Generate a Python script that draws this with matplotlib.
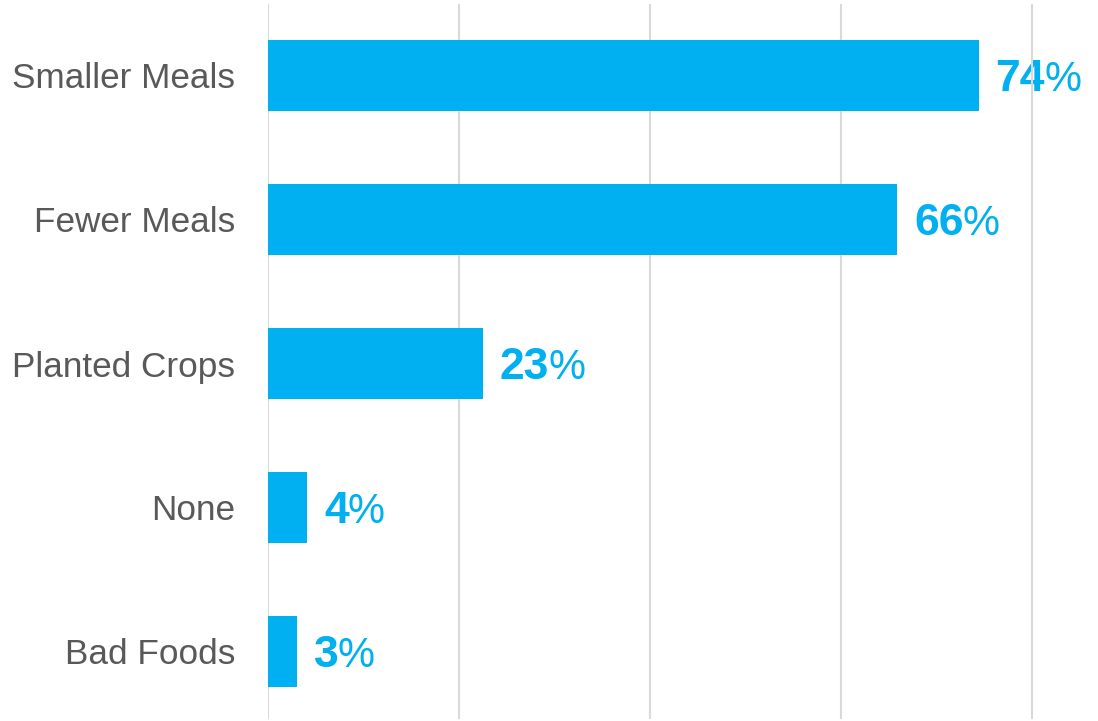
import matplotlib
matplotlib.use("Agg")
import matplotlib.pyplot as plt

categories = ["Smaller Meals", "Fewer Meals", "Planted Crops", "None", "Bad Foods"]
values = [74.4, 65.9, 22.5, 4.1, 3.0]
labels = ["74", "66", "23", "4", "3"]
grid_ticks = [0, 20, 40, 60, 80]

BAR = "#00B0F0"
GRAY = "#595959"
GRID = "#D9D9D9"
plt.rcParams['font.family'] = ['Liberation Sans', 'DejaVu Sans']

W, H = 1098, 721
fig = plt.figure(figsize=(W / 100, H / 100), dpi=100)
left = 268 / W
ax = fig.add_axes([left, 0, 1 - left, 1])

step = 144.0
ypos = list(range(len(categories)))
ax.barh(ypos, values, height=71 / step, color=BAR, zorder=3)
ax.set_ylim((H - 75.5) / step, -75.5 / step)
ax.set_xlim(0, 20 * (W - 268) / 191)

for t in grid_ticks:
    ax.axvline(t, ymin=3 / H, ymax=1 - 5 / H, color=GRID, lw=1.5, zorder=2)

for s in ax.spines.values():
    s.set_visible(False)
ax.set_xticks([])
ax.set_yticks(ypos)
ax.set_yticklabels(categories, fontsize=25.3, color=GRAY)
ax.tick_params(axis='y', length=0, pad=23.5)

for y, v, lab in zip(ypos, values, labels):
    t = ax.annotate(lab, xy=(v, y), xytext=(17, -4), textcoords='offset pixels',
                    ha='left', va='center', fontsize=32, fontweight='bold', color=BAR, zorder=1)
    ax.annotate('%', xy=(1, 0), xycoords=t, xytext=(-1, 0), textcoords='offset pixels',
                ha='left', va='bottom', fontsize=30, color=BAR, zorder=1)

fig.savefig("out.png", dpi=100)
